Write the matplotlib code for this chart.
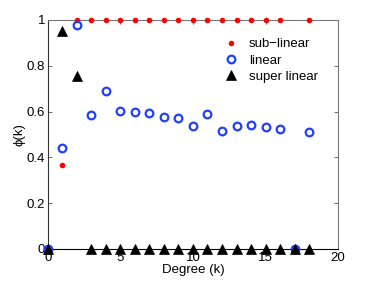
import numpy as np
import matplotlib.pyplot as plt

# degree k and phi(k) for each model
k = np.arange(0, 19)
sub_linear = [0, 0.365, 1, 1, 1, 1, 1, 1, 1, 1, 1, 1, 1, 1, 1, 1, 1, 0, 1]
linear = [0, 0.442, 0.978, 0.584, 0.689, 0.601, 0.600, 0.595, 0.578, 0.571,
          0.537, 0.588, 0.517, 0.539, 0.541, 0.534, 0.524, 0, 0.512]
super_linear = [0, 0.952, 0.754, 0, 0, 0, 0, 0, 0, 0, 0, 0, 0, 0, 0, 0, 0, 0, 0]

plt.rcParams['font.family'] = ['Liberation Sans', 'DejaVu Sans']
plt.rcParams['font.size'] = 9.5

fig = plt.figure(figsize=(3.74, 2.81), dpi=100)
ax = fig.add_axes([0.128, 0.114, 0.776, 0.815])

ax.plot(k, sub_linear, 'o', color='red', markersize=4, markeredgewidth=0,
        label='sub\u2212linear', clip_on=False, zorder=3)
ax.plot(k, linear, 'o', markerfacecolor='none', markeredgecolor='#1f3ffb',
        markersize=5.5, markeredgewidth=1.6, label='linear', clip_on=False, zorder=3)
ax.plot(k, super_linear, '^', color='black', markersize=6.5, markeredgewidth=0.5,
        label='super linear', clip_on=False, zorder=4)

ax.set_xlim(0, 20)
ax.set_ylim(0, 1)
ax.set_xticks([0, 5, 10, 15, 20])
ax.set_yticks([0, 0.2, 0.4, 0.6, 0.8, 1])
ax.set_yticklabels(['0', '0.2', '0.4', '0.6', '0.8', '1'])
ax.tick_params(direction='in', top=True, right=True, length=3, width=0.6,
               colors='#555555', labelcolor='black', pad=2)
for s in ax.spines.values():
    s.set_color('#777777')
    s.set_linewidth(0.8)
ax.spines['bottom'].set_color('black')
ax.spines['left'].set_color('#333333')

ax.set_xlabel('Degree (k)', labelpad=0)
ax.set_ylabel('\u03d5(k)', labelpad=1)

ax.legend(loc='upper right', frameon=False, handletextpad=0.6,
          borderaxespad=0.8, labelspacing=0.3, handlelength=1.5,
          bbox_to_anchor=(0.985, 0.99))

fig.savefig('out.png', dpi=100)
